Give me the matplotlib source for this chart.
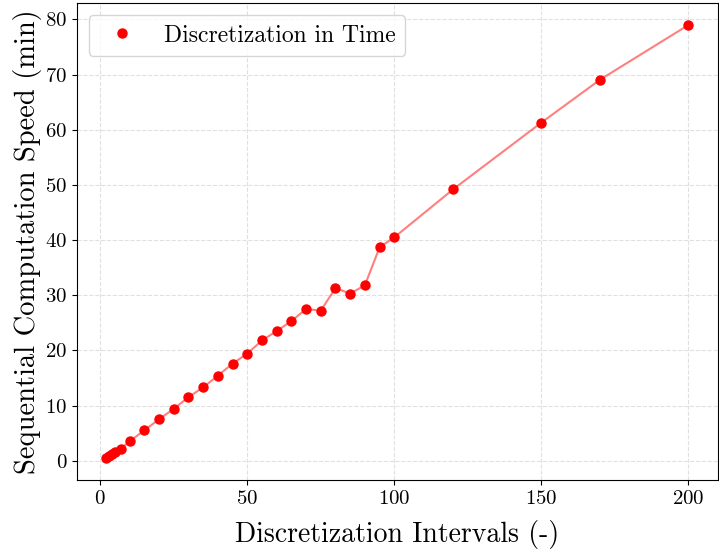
import numpy as np
import matplotlib.pyplot as plt

plt.rcParams['font.family'] = 'serif'
plt.rcParams['font.serif'] = ['cmr10']
plt.rcParams['mathtext.fontset'] = 'cm'
plt.rcParams['axes.formatter.use_mathtext'] = True

# 离散区间数与顺序计算耗时
intervals = [2, 3, 4, 5, 7, 10, 15, 20, 25, 30, 35, 40, 45, 50, 55, 60, 65,
             70, 75, 80, 85, 90, 95, 100, 120, 150, 170, 200]
speed = [0.4, 0.8, 1.2, 1.5, 2.2, 3.5, 5.5, 7.5, 9.4, 11.5, 13.3, 15.4, 17.6,
         19.4, 21.8, 23.5, 25.3, 27.5, 27.2, 31.3, 30.3, 31.8, 38.7, 40.5,
         49.2, 61.3, 69.1, 79.0]

fig = plt.figure(figsize=(7.19, 5.5), dpi=100)
ax = fig.add_axes([0.107, 0.127, 0.891, 0.867])
ax.plot(intervals, speed, '-', color='red', alpha=0.5, linewidth=1.5)
ax.plot(intervals, speed, 'o', color='red', markersize=6.5, label='Discretization in Time')
ax.set_xlabel('Discretization Intervals (-)', fontsize=20, labelpad=9)
ax.set_ylabel('Sequential Computation Speed (min)', fontsize=20.5, labelpad=2)
ax.tick_params(labelsize=15)
ax.set_xticks([0, 50, 100, 150, 200])
ax.set_yticks(range(0, 81, 10))
ax.grid(True, linestyle='--', color='lightgray', alpha=0.7)
ax.legend(fontsize=17, loc='upper left')
plt.savefig('out.png', dpi=100)
